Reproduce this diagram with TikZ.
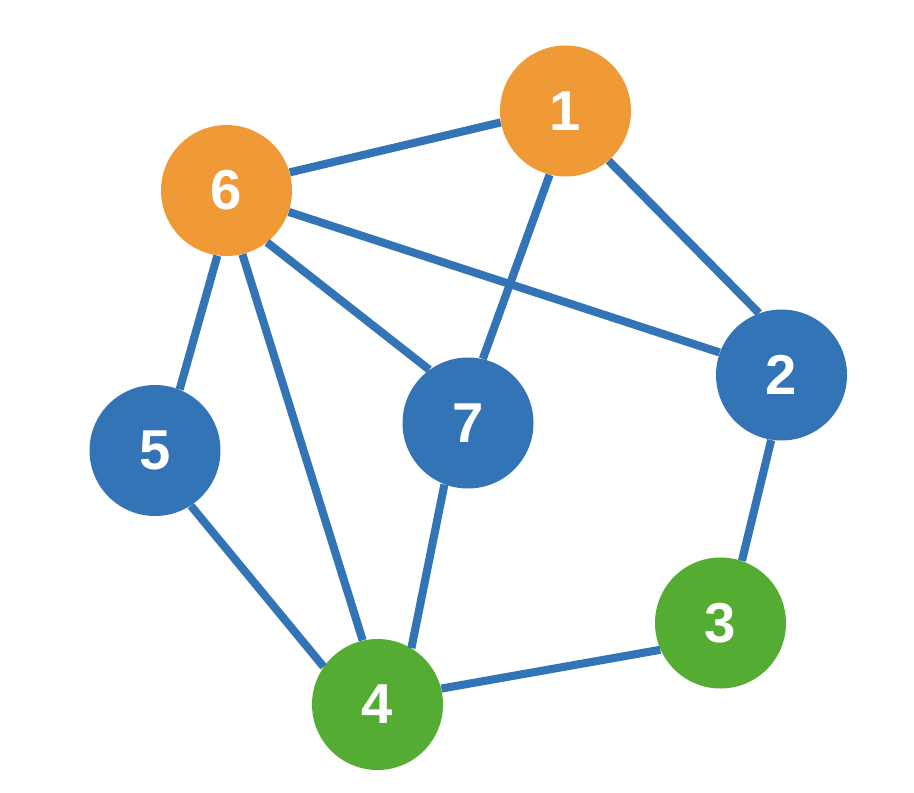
\documentclass[tikz,border=0pt]{standalone}
\usepackage{fontspec}
\setmainfont{Liberation Sans}
\usepackage{xcolor}
\usetikzlibrary{positioning}

\definecolor{vorange}{HTML}{F09A37}
\definecolor{vblue}{HTML}{3274B5}
\definecolor{vgreen}{HTML}{55AC33}

\begin{document}
\begin{tikzpicture}[
  vertex/.style={circle, minimum size=2.62cm, inner sep=0pt, text=white, font=\fontsize{32}{32}\selectfont\bfseries},
  edge/.style={draw=vblue, line width=4.6pt}
]
  \useasboundingbox (0,0) rectangle (18.28,15.84);
  \node[vertex, fill=vorange] (n1) at (11.31,13.62) {1};
  \node[vertex, fill=vorange] (n6) at (4.53,12.03) {6};
  \node[vertex, fill=vblue] (n2) at (15.63,8.34) {2};
  \node[vertex, fill=vblue] (n5) at (3.10,6.83) {5};
  \node[vertex, fill=vblue] (n7) at (9.36,7.38) {7};
  \node[vertex, fill=vgreen] (n3) at (14.41,3.38) {3};
  \node[vertex, fill=vgreen] (n4) at (7.55,1.75) {4};
  \draw[edge] (n6.16) -- (n1.190);
  \draw[edge] (n1.256) -- (n7.77);
  \draw[edge] (n1.311) -- (n2.110);
  \draw[edge] (n6.341) -- (n2.160);
  \draw[edge] (n6.308) -- (n7.126);
  \draw[edge] (n6.262) -- (n5.68);
  \draw[edge] (n6.284) -- (n4.103);
  \draw[edge] (n5.303) -- (n4.145);
  \draw[edge] (n7.249) -- (n4.59);
  \draw[edge] (n2.261) -- (n3.71);
  \draw[edge] (n3.204) -- (n4.14);
\end{tikzpicture}
\end{document}
